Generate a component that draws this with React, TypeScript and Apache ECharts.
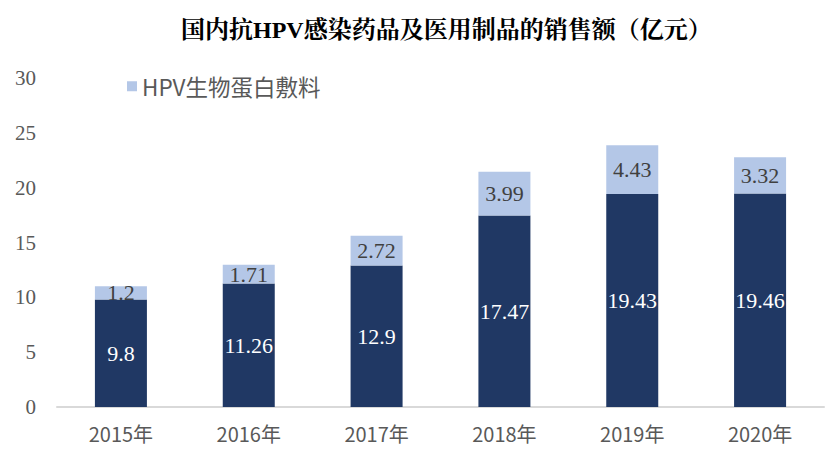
import React, { useEffect, useRef } from "react";
import * as echarts from "echarts";

const categories = ["2015年", "2016年", "2017年", "2018年", "2019年", "2020年"];
const drugValues = [9.8, 11.26, 12.9, 17.47, 19.43, 19.46];
const dressingValues = [1.2, 1.71, 2.72, 3.99, 4.43, 3.32];
const drugName = "抗HPV药品";
const dressingName = "HPV生物蛋白敷料";

export default function App() {
  const ref = useRef<HTMLDivElement>(null);
  useEffect(() => {
    if (!ref.current) return;
    const chart = echarts.init(ref.current, null, { renderer: "svg" });
    const sans = "'Noto Sans CJK SC', 'Noto Sans', sans-serif";
    const serif = "'Liberation Serif', 'Noto Serif CJK SC', 'Noto Sans CJK SC', serif";
    chart.setOption({
      animation: false,
      backgroundColor: "#ffffff",
      title: {
        text: "国内抗HPV感染药品及医用制品的销售额（亿元）",
        left: 168,
        top: 5,
        textStyle: {
          fontFamily: serif,
          fontWeight: "bold",
          fontSize: 24,
          color: "#000000",
        },
      },
      legend: {
        data: [dressingName],
        left: 114,
        top: 62,
        itemWidth: 10,
        itemHeight: 10,
        itemGap: 8,
        icon: "rect",
        textStyle: { fontFamily: sans, fontSize: 22.5, color: "#595959" },
      },
      grid: { left: 49, right: 2, top: 70, bottom: 51 },
      xAxis: {
        type: "category",
        data: categories,
        axisLine: { lineStyle: { color: "#d9d9d9", width: 2 } },
        axisTick: { show: false },
        axisLabel: { fontFamily: sans, fontSize: 20, color: "#595959", margin: 16 },
      },
      yAxis: {
        type: "value",
        min: 0,
        max: 30,
        interval: 5,
        splitLine: { show: false },
        axisLine: { show: false },
        axisTick: { show: false },
        axisLabel: { fontFamily: serif, fontSize: 21, color: "#595959", margin: 21 },
      },
      series: [
        {
          name: drugName,
          type: "bar",
          stack: "total",
          barWidth: 52,
          data: drugValues,
          itemStyle: { color: "#203864" },
          label: {
            show: true,
            position: "inside",
            color: "#ffffff",
            fontFamily: serif,
            fontSize: 22,
          },
        },
        {
          name: dressingName,
          type: "bar",
          stack: "total",
          barWidth: 52,
          data: dressingValues,
          itemStyle: { color: "#b4c7e7" },
          label: {
            show: true,
            position: "inside",
            color: "#404040",
            fontFamily: serif,
            fontSize: 22,
          },
        },
      ],
    });
    return () => chart.dispose();
  }, []);
  return <div ref={ref} style={{ width: 818, height: 450 }} />;
}
